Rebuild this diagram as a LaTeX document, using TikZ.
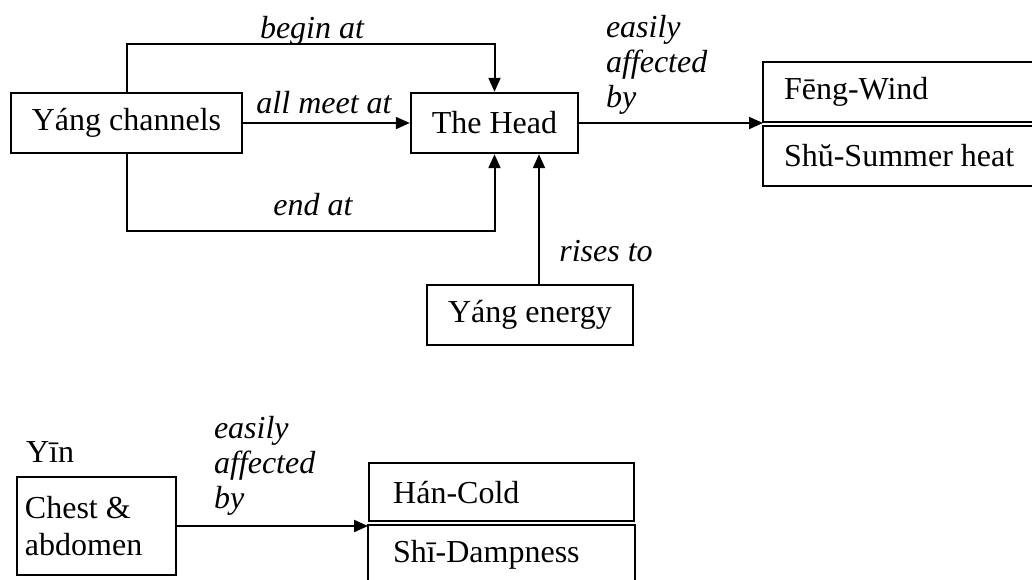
\documentclass[tikz,border=0pt]{standalone}
\usepackage{fontspec}
\setmainfont{Liberation Serif}
\usetikzlibrary{arrows.meta}
\tikzset{>={Triangle[length=7pt,width=6pt]}}

\begin{document}
\begin{tikzpicture}[x = 0.5pt, y = -0.5pt, line width = 1pt,
    box/.style = {draw, line width = 1.2pt, inner sep = 0pt,
        font = \fontsize{16}{18.5}\selectfont},
    openbox/.style = {inner sep = 0pt, anchor = north west, align = flush left,
        text width = 120pt, font = \fontsize{16}{18.5}\selectfont},
    lbl/.style = {inner sep = 0pt, align = flush left,
        font = \fontsize{16}{17.5}\selectfont\itshape}]
    \useasboundingbox (0,0) rectangle (1032,579);
    % upper part
    \node[box, minimum width = 115.5pt, minimum height = 30pt] (yang) at (126.5,123) {Yáng channels};
    \node[box, minimum width = 83.5pt, minimum height = 30pt] (head) at (494.5,123) {The Head};
    \node[box, minimum width = 103pt, minimum height = 30pt] (energy) at (530,315) {Yáng energy};
    \node[openbox, minimum height = 29pt, inner xsep = 10pt] (feng) at (763,62) {Fēng-Wind};
    \node[openbox, minimum height = 29pt, inner xsep = 10pt] (shu) at (763,126) {Shŭ-Summer heat};
    \draw[line width = 1.2pt] (feng.north west) ++(269,0) -- (feng.north west) -- (feng.south west) -- ++(269,0);
    \draw[line width = 1.2pt] (shu.north west) ++(269,0) -- (shu.north west) -- (shu.south west) -- ++(269,0);
    \draw[->] (yang.north) -- ++(0,-48) -| (head.north);
    \draw[->] (yang.east) -- (head.west);
    \draw[->] (yang.south) -- ++(0,77) -| (head.south);
    \draw[->] ([xshift = 4.5pt]energy.north) -- ([xshift = 4.5pt]energy.north |- head.south);
    \draw[->] (head.east) -- (head.east -| feng.south west);
    \node[lbl, anchor = base] (lbegin) at (312,38) {begin at};
    \node[lbl, anchor = base] (lmeet) at (324,113) {all meet at};
    \node[lbl, anchor = base] (lend) at (313,215) {end at};
    \node[lbl, anchor = base] (lrise) at (606,261) {rises to};
    \node[lbl, anchor = base west] (laff) at (605,107) {easily\\affected\\by};
    % lower part
    \node[font = \fontsize{16}{18.5}\selectfont, anchor = base west, inner sep = 0pt] (yin) at (25,462) {Yīn};
    \node[box, minimum width = 79.5pt, minimum height = 49pt, text width = 71.5pt, align = flush left,
        inner xsep = 4pt] (chest) at (96.5,526) {Chest \&\\abdomen};
    \node[box, anchor = north west, minimum width = 120.5pt, minimum height = 29pt, text width = 108.5pt,
        align = flush left, inner xsep = 12pt] (han) at (368,462) {Hán-Cold};
    \node[openbox, minimum height = 29pt, text width = 108.5pt, inner xsep = 12pt] (shi) at (368,525) {Shī-Dampness};
    \draw[line width = 1.2pt] (shi.north west) ++(0,60) -- (shi.north west) -- (shi.north east) -- ++(0,60);
    \draw[->] (chest.east) -- (chest.east -| han.west);
    \node[lbl, anchor = base west] (laff2) at (213,508) {easily\\affected\\by};
\end{tikzpicture}
\end{document}
